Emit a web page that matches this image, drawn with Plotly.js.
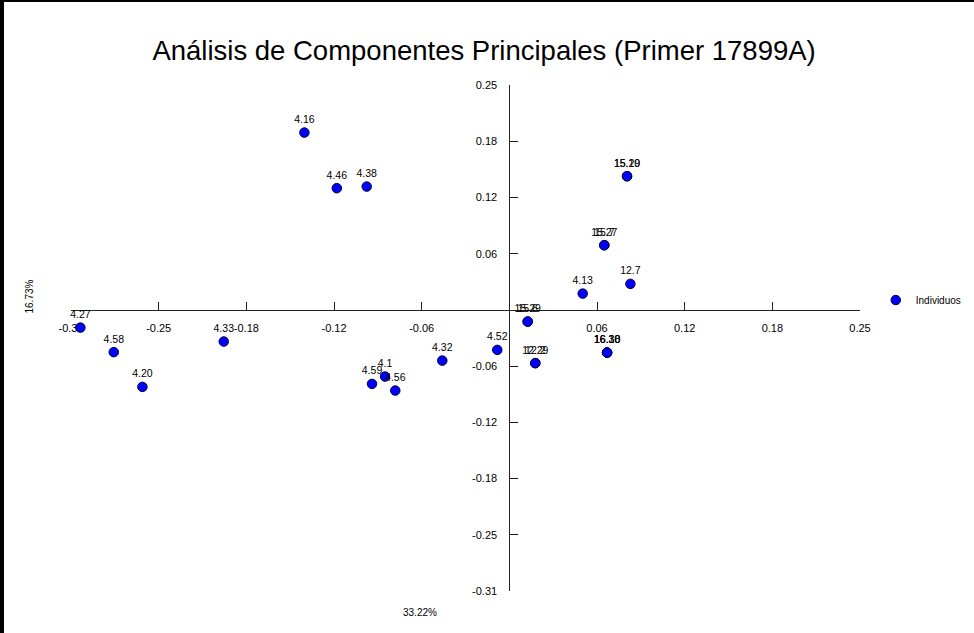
<!DOCTYPE html>
<html>
<head>
<meta charset="utf-8">
<script src="https://cdn.plot.ly/plotly-3.0.1.min.js"></script>
<style>
  html, body { margin: 0; padding: 0; background: #fff; }
  #wrap { position: relative; width: 974px; height: 633px; overflow: hidden; }
  #chart { position: absolute; left: 0; top: 0; width: 974px; height: 633px; }
  .edge { position: absolute; background: #000; }
</style>
</head>
<body>
<div id="wrap">
  <div id="chart"></div>
  <div class="edge" style="left:0;top:0;width:4px;height:633px;"></div>
  <div class="edge" style="left:0;top:0;width:974px;height:2px;"></div>
</div>
<script>
// Individual labels (some individuals share the same coordinates)
const individuos = ["4.4", "4.27", "4.58", "4.20", "4.33", "4.16", "4.46", "4.38",
  "4.59", "4.1", "4.56", "4.32", "4.52", "15.29", "15.6", "12.2", "12.29", "4.13",
  "12.7", "16.30", "16.10", "16.38", "15.19", "15.20", "15.7", "15.27"];

// First principal component (33.22%)
const cp1 = [-0.3130, -0.3058, -0.2820, -0.2616, -0.2036, -0.1461, -0.1230, -0.1017,
  -0.0979, -0.0886, -0.0813, -0.0478, -0.0086, 0.0131, 0.0131, 0.0185, 0.0185, 0.0523,
  0.0863, 0.0697, 0.0697, 0.0697, 0.0839, 0.0839, 0.0677, 0.0677];

// Second principal component (16.73%)
const cp2 = [0.1119, -0.0197, -0.0470, -0.0856, -0.0352, 0.1971, 0.1353, 0.1371,
  -0.0823, -0.0741, -0.0897, -0.0564, -0.0445, -0.0130, -0.0130, -0.0592, -0.0592, 0.0181,
  0.0289, -0.0475, -0.0475, -0.0475, 0.1486, 0.1486, 0.0719, 0.0719];

// Axis ticks, labels truncated to two decimals
const tickValues = [-0.3125, -0.25, -0.1875, -0.125, -0.0625, 0.0625, 0.125, 0.1875, 0.25];
const tickLabels = ["-0.31", "-0.25", "-0.18", "-0.12", "-0.06", "0.06", "0.12", "0.18", "0.25"];

const axisRange = [-0.3125, 0.25];
const crossAt = (0 - axisRange[0]) / (axisRange[1] - axisRange[0]);

const FONT = "Liberation Sans, Arial, sans-serif";

const trace = {
  type: "scatter",
  mode: "markers+text",
  name: "Individuos",
  x: cp1,
  y: cp2,
  text: individuos,
  textposition: "top center",
  textfont: { family: FONT, size: 10.5, color: "#000" },
  marker: { color: "#0000ff", size: 9.5, line: { color: "#000033", width: 1 } },
  cliponaxis: false,
  hoverinfo: "x+y+text"
};

const axisCommon = {
  range: axisRange,
  tickvals: tickValues,
  ticktext: tickLabels,
  showgrid: false,
  zeroline: false,
  showline: true,
  linecolor: "#222",
  linewidth: 1,
  ticks: "inside",
  ticklen: 8,
  tickcolor: "#222",
  tickfont: { family: FONT, size: 11, color: "#000" },
  anchor: "free",
  position: crossAt,
  layer: "below traces",
  fixedrange: true
};

const layout = {
  width: 974,
  height: 633,
  margin: { l: 71, r: 114, t: 85, b: 42, autoexpand: false },
  paper_bgcolor: "#fff",
  plot_bgcolor: "#fff",
  font: { family: FONT, color: "#000" },
  title: {
    text: "Análisis de Componentes Principales (Primer 17899A)",
    font: { family: FONT, size: 27.5, color: "#000" },
    x: 0.497, xanchor: "center",
    y: 0.921, yanchor: "middle", yref: "container"
  },
  xaxis: Object.assign({}, axisCommon, { side: "bottom", ticklabelstandoff: 8 }),
  yaxis: Object.assign({}, axisCommon, { side: "left", ticklabelstandoff: 10 }),
  showlegend: true,
  legend: {
    x: 1.02, xanchor: "left",
    y: 0.575, yanchor: "middle",
    font: { family: FONT, size: 10, color: "#000" },
    itemwidth: 30,
    bgcolor: "rgba(0,0,0,0)"
  },
  annotations: [
    {
      text: "16.73%", xref: "paper", yref: "paper",
      x: -0.0621, y: 0.581, showarrow: false, textangle: -90,
      font: { family: FONT, size: 10, color: "#000" }
    },
    {
      text: "33.22%", xref: "paper", yref: "paper",
      x: 0.4423, y: -0.0573, showarrow: false,
      font: { family: FONT, size: 10, color: "#000" }
    }
  ]
};

Plotly.newPlot("chart", [trace], layout, { displayModeBar: false, staticPlot: true });
</script>
</body>
</html>
